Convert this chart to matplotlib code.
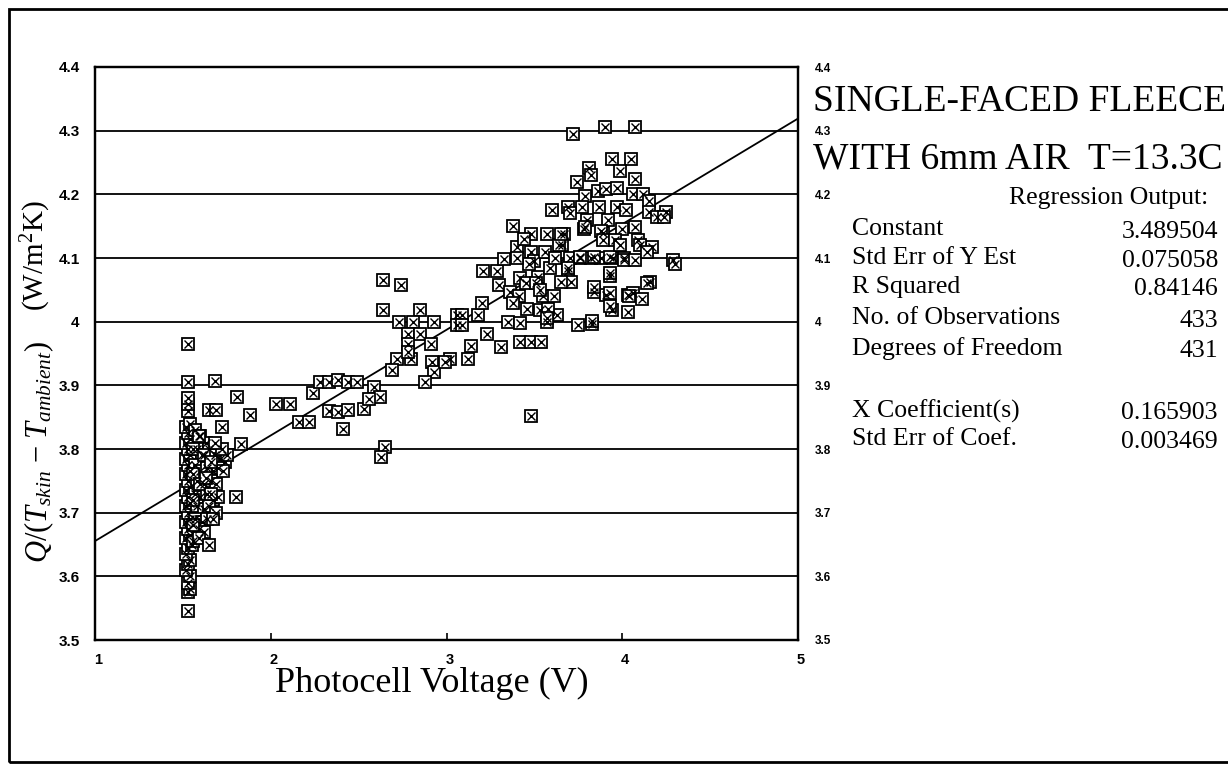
import matplotlib.pyplot as plt
import matplotlib.transforms as mtransforms
from matplotlib.patches import Rectangle

plt.rcParams['font.family'] = ['Liberation Serif', 'DejaVu Serif']
plt.rcParams['mathtext.fontset'] = 'custom'
plt.rcParams['mathtext.rm'] = 'Liberation Serif'
plt.rcParams['mathtext.it'] = 'Liberation Serif:italic'

# regression output printed on the chart
const = 3.489504
x_coef = 0.165903
reg_labels = ['Constant', 'Std Err of Y Est', 'R Squared', 'No. of Observations',
              'Degrees of Freedom', 'X Coefficient(s)', 'Std Err of Coef.']
reg_values = ['3.489504', '0.075058', '0.84146', '433', '431', '0.165903', '0.003469']
reg_rows = [4.145, 4.100, 4.055, 4.005, 3.958, 3.860, 3.815]

y_ticks = [3.5, 3.6, 3.7, 3.8, 3.9, 4.0, 4.1, 4.2, 4.3, 4.4]
y_ticklabels = ['3.5', '3.6', '3.7', '3.8', '3.9', '4', '4.1', '4.2', '4.3', '4.4']
x_ticks = [1, 2, 3, 4, 5]

# photocell voltage (V)
volt = [
    # vertical column near 1.5 V
    1.53, 1.53, 1.54, 1.53, 1.54, 1.52, 1.53, 1.54, 1.52, 1.53, 1.55,
    1.52, 1.54, 1.53, 1.52, 1.54, 1.53, 1.52, 1.54, 1.53, 1.52, 1.54,
    1.53, 1.52, 1.54, 1.53, 1.52, 1.54, 1.53, 1.52, 1.54, 1.53, 1.52,
    1.54, 1.53, 1.53, 1.53, 1.53, 1.53,
    # spread next to the column
    1.57, 1.60, 1.63, 1.58, 1.61, 1.65, 1.68, 1.71, 1.74, 1.57, 1.60,
    1.64, 1.67, 1.70, 1.73, 1.58, 1.62, 1.66, 1.69, 1.57, 1.60, 1.64,
    1.67, 1.70, 1.58, 1.62, 1.65, 1.69, 1.57, 1.61, 1.64, 1.67, 1.59,
    1.62, 1.56, 1.59, 1.56, 1.56, 1.56, 1.56, 1.59, 1.62, 1.66, 1.60,
    1.63, 1.66, 1.75, 1.72, 1.68,
    # 1.6 - 2.6 V
    1.68, 1.65, 1.69, 1.72, 1.81, 1.88, 1.83, 1.80, 1.65, 2.03, 2.11,
    2.16, 2.22, 2.24, 2.28, 2.33, 2.38, 2.44, 2.49, 2.33, 2.38, 2.44,
    2.53, 2.41, 2.59, 2.62, 2.56, 2.65, 2.63,
    # 2.6 - 3.3 V
    2.64, 2.74, 2.64, 2.85, 2.73, 2.81, 2.93, 2.78, 2.85, 2.91, 2.78,
    3.06, 3.09, 3.06, 3.09, 3.18, 3.20, 3.21, 3.29, 3.30, 3.33, 3.02,
    3.12, 2.92, 2.93, 2.99, 2.72, 2.80, 2.78, 2.69, 2.88, 3.23, 3.31,
    3.14,
    # 3.3 - 3.7 V
    3.36, 3.41, 3.42, 3.48, 3.57, 3.67, 3.40, 3.48, 3.52, 3.59, 3.69,
    3.55, 3.61, 3.46, 3.53, 3.63, 3.35, 3.42, 3.57, 3.42, 3.48, 3.54,
    3.48, 3.38, 3.45, 3.50, 3.56, 3.62, 3.66, 3.38, 3.44, 3.51, 3.58,
    3.64, 3.47, 3.53, 3.60, 3.40, 3.57,
    # 3.6 - 4.3 V
    3.83, 3.94, 3.93, 3.84, 3.91, 4.03, 3.70, 3.76, 3.82, 3.88, 3.95,
    4.01, 3.78, 3.89, 4.00, 3.72, 3.90, 4.07, 3.94, 4.05, 3.81, 3.74,
    4.07, 3.86, 3.91, 3.79, 4.06, 4.12, 4.15, 3.69, 3.77, 3.87, 3.97,
    4.02, 4.15, 4.25, 3.70, 3.80, 3.92, 3.65, 3.79, 3.88, 4.07, 3.89,
    3.96, 4.09, 4.17, 3.76, 3.84, 3.93, 4.01, 4.07, 4.29, 3.69, 3.71,
    3.65, 3.84, 3.93, 3.93, 4.06, 4.16, 3.93, 3.83, 3.99, 4.03, 4.11,
    4.20, 4.24, 4.30, 4.14, 3.82, 3.97, 4.10, 3.75, 4.04, 3.99, 4.14,
]

# Q/(Tskin - Tambient) (W/m2K)
heat = [
    3.545, 3.575, 3.580, 3.590, 3.600, 3.610, 3.620, 3.625, 3.635, 3.645, 3.650,
    3.660, 3.665, 3.675, 3.685, 3.690, 3.700, 3.710, 3.715, 3.725, 3.735, 3.740,
    3.750, 3.760, 3.765, 3.775, 3.785, 3.790, 3.800, 3.810, 3.815, 3.825, 3.835,
    3.840, 3.860, 3.870, 3.880, 3.905, 3.965,
    3.830, 3.820, 3.810, 3.800, 3.790, 3.800, 3.790, 3.785, 3.780, 3.775, 3.765,
    3.770, 3.765, 3.770, 3.765, 3.750, 3.745, 3.750, 3.745, 3.730, 3.725, 3.730,
    3.720, 3.725, 3.710, 3.705, 3.710, 3.700, 3.690, 3.685, 3.690, 3.690, 3.675,
    3.670, 3.655, 3.660, 3.800, 3.760, 3.720, 3.680, 3.820, 3.790, 3.780, 3.745,
    3.755, 3.730, 3.790, 3.800, 3.810,
    3.907, 3.862, 3.862, 3.835, 3.882, 3.853, 3.808, 3.724, 3.649, 3.870, 3.870,
    3.842, 3.842, 3.888, 3.905, 3.905, 3.908, 3.905, 3.906, 3.860, 3.858, 3.862,
    3.863, 3.832, 3.897, 3.882, 3.879, 3.803, 3.787,
    4.066, 4.057, 4.018, 4.018, 3.999, 3.999, 3.999, 3.980, 3.980, 3.965, 3.965,
    4.010, 4.010, 3.995, 3.995, 4.010, 4.030, 4.080, 4.080, 4.058, 4.099, 3.942,
    3.942, 3.936, 3.921, 3.936, 3.942, 3.942, 3.953, 3.924, 3.906, 3.980, 3.960,
    3.962,
    4.047, 4.040, 4.068, 4.137, 4.137, 4.137, 4.118, 4.110, 4.070, 4.085, 4.080,
    4.040, 4.040, 4.020, 4.018, 4.010, 3.999, 3.998, 3.999, 3.968, 3.968, 3.968,
    3.852, 4.030, 4.060, 4.095, 4.110, 4.100, 4.120, 4.150, 4.130, 4.060, 4.020,
    4.120, 4.090, 4.050, 4.175, 4.100, 4.005,
    3.997, 4.018, 4.071, 4.047, 4.042, 4.042, 4.100, 4.100, 4.100, 4.100, 4.100,
    4.100, 4.145, 4.140, 4.145, 4.295, 4.305, 4.305, 4.255, 4.255, 4.242, 4.219,
    4.224, 4.205, 4.208, 4.198, 4.200, 4.200, 4.190, 4.180, 4.180, 4.180, 4.180,
    4.175, 4.172, 4.172, 4.170, 4.160, 4.160, 4.138, 4.149, 4.143, 4.149, 4.128,
    4.128, 4.128, 4.118, 4.102, 4.102, 4.102, 4.097, 4.097, 4.097, 4.084, 4.063,
    4.063, 4.055, 4.045, 4.076, 4.045, 4.063, 4.024, 4.001, 4.236, 4.015, 4.035,
    4.165, 4.165, 4.090, 4.060, 4.230, 4.210, 4.120, 3.995, 4.040, 4.120, 4.110,
]

fig = plt.figure(figsize=(12.28, 7.66), dpi=100)
ax = fig.add_axes([95 / 1228, 126 / 766, 703 / 1228, 573 / 766])

ax.set_xlim(1, 5)
ax.set_ylim(3.5, 4.4)
for yy in y_ticks[1:-1]:
    ax.axhline(yy, color='black', lw=1.3, zorder=1)

# fitted line from the regression output
ax.plot(x_ticks, [const + x_coef * v for v in x_ticks], color='black', lw=1.3, zorder=2)

ax.plot(volt, heat, 's', ms=8.5, mfc='white', mec='black', mew=1.3, zorder=3)
ax.plot(volt, heat, 'x', ms=5.5, color='black', mew=1.0, zorder=4)

for sp in ax.spines.values():
    sp.set_linewidth(1.6)

ax.set_yticks(y_ticks)
ax.set_yticklabels(y_ticklabels, family='Liberation Sans', fontsize=11, weight='bold')
ax.tick_params(axis='y', length=0, pad=11)
ax.set_xticks(x_ticks)
ax.set_xticklabels([str(v) for v in x_ticks], family='Liberation Sans', fontsize=10.5, weight='bold')
ax.tick_params(axis='x', direction='in', length=5, width=1.2, pad=9)
shift = mtransforms.ScaledTranslation(3 / 100, 0, fig.dpi_scale_trans)
for lbl in ax.get_xticklabels():
    lbl.set_transform(lbl.get_transform() + shift)

# right-hand copy of the y scale
ax2 = ax.twinx()
ax2.set_ylim(3.5, 4.4)
ax2.set_yticks(y_ticks)
ax2.set_yticklabels(y_ticklabels, family='Liberation Sans', fontsize=8.5, weight='bold')
ax2.tick_params(axis='y', length=0, pad=12)
for sp in ax2.spines.values():
    sp.set_linewidth(1.6)

fig.text(0.352, 0.108, 'Photocell Voltage (V)', fontsize=26, ha='center', va='center')
ax_bottom, ax_h = 126 / 766, 573 / 766
fig.text(0.032, ax_bottom + ax_h * 0.328, r'$Q/(T_{skin}\ \mathrm{-}\ T_{ambient})$',
         fontsize=22, rotation=90, ha='center', va='center')
fig.text(0.029, ax_bottom + ax_h * 0.67, r'(W/m$^2$K)', fontsize=21, rotation=90,
         ha='center', va='center')

tr = mtransforms.blended_transform_factory(fig.transFigure, ax.transData)
fig.text(813 / 1228, 4.345, 'SINGLE-FACED FLEECE', transform=tr, fontsize=27, va='center')
fig.text(813 / 1228, 4.255, 'WITH 6mm AIR  T=13.3C', transform=tr, fontsize=27, va='center')
fig.text(1208 / 1228, 4.195, 'Regression Output:', transform=tr, fontsize=18.5,
         ha='right', va='center')
for lab, val, yy in zip(reg_labels, reg_values, reg_rows):
    fig.text(852 / 1228, yy, lab, transform=tr, fontsize=18.5, va='center')
    fig.text(1218 / 1228, yy - 0.004, val, transform=tr, fontsize=18.5, ha='right', va='center')

# scanned page frame
fig.patches.append(Rectangle((9 / 1228, 4 / 766), 1.02, 753 / 766, transform=fig.transFigure,
                             fill=False, ec='black', lw=2.0))

fig.savefig('out.png', dpi=100)
